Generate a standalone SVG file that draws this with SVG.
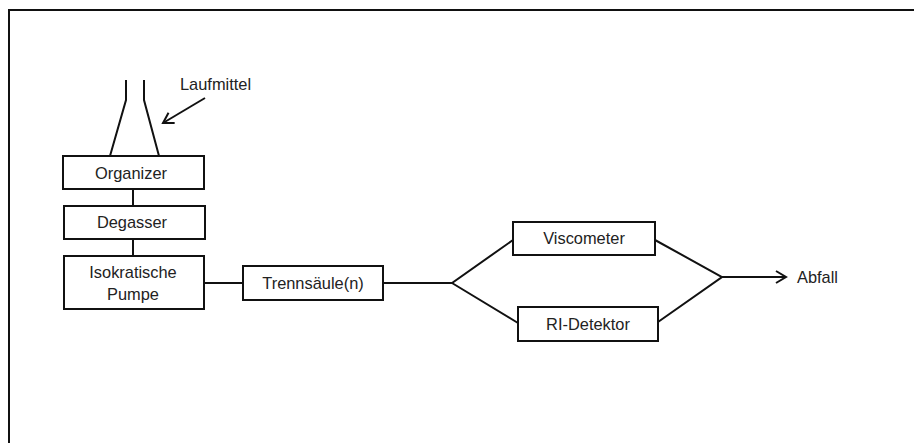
<svg xmlns="http://www.w3.org/2000/svg" width="914" height="443" viewBox="0 0 914 443">
<style>
.box{fill:#fff;stroke:#111;stroke-width:2}
.ln{fill:none;stroke:#111;stroke-width:2}
.t{font-family:"Liberation Sans",Arial,sans-serif;font-size:16.4px;fill:#222}
.c{text-anchor:middle}
</style>
<defs>
<marker id="arr" markerWidth="14" markerHeight="14" refX="12" refY="7" orient="auto" markerUnits="userSpaceOnUse">
<path d="M2,1 L12,7 L2,13" fill="none" stroke="#111" stroke-width="2"/>
</marker>
</defs>
<rect width="914" height="443" fill="#fff"/>
<g id="frame">
<path class="ln" d="M9,443 V10 H914" stroke-width="2.5"/>
</g>
<g id="connectors">
<path class="ln" d="M126,80 V100 L110,156 M144,80 V100 L159,156"/>
<line class="ln" x1="205" y1="98" x2="163" y2="123" marker-end="url(#arr)"/>
<line class="ln" x1="133" y1="189" x2="133" y2="206"/>
<line class="ln" x1="133" y1="239" x2="133" y2="256"/>
<line class="ln" x1="204" y1="283" x2="243" y2="283"/>
<path class="ln" d="M383,283 H452 L513,240 M452,283 L518,323"/>
<path class="ln" d="M655,240 L722,277 L658,322"/>
<line class="ln" x1="722" y1="277" x2="786" y2="277" marker-end="url(#arr)"/>
</g>
<g id="laufmittel"><text class="t" x="180" y="90">Laufmittel</text></g>
<g id="organizer">
<rect class="box" x="63" y="156" width="141" height="33"/>
<text class="t c" x="131" y="179">Organizer</text>
</g>
<g id="degasser">
<rect class="box" x="64" y="206" width="141" height="33"/>
<text class="t c" x="132" y="228">Degasser</text>
</g>
<g id="pumpe">
<rect class="box" x="64" y="256" width="140" height="53"/>
<text class="t c" x="133" y="278">Isokratische</text>
<text class="t c" x="133" y="300">Pumpe</text>
</g>
<g id="trennsaeule">
<rect class="box" x="243" y="266" width="140" height="34"/>
<text class="t c" x="313" y="289">Trennsäule(n)</text>
</g>
<g id="viscometer">
<rect class="box" x="513" y="222" width="142" height="33"/>
<text class="t c" x="584" y="244">Viscometer</text>
</g>
<g id="ri">
<rect class="box" x="518" y="307" width="140" height="34"/>
<text class="t c" x="588" y="330">RI-Detektor</text>
</g>
<g id="abfall"><text class="t" x="797" y="283">Abfall</text></g>
</svg>
